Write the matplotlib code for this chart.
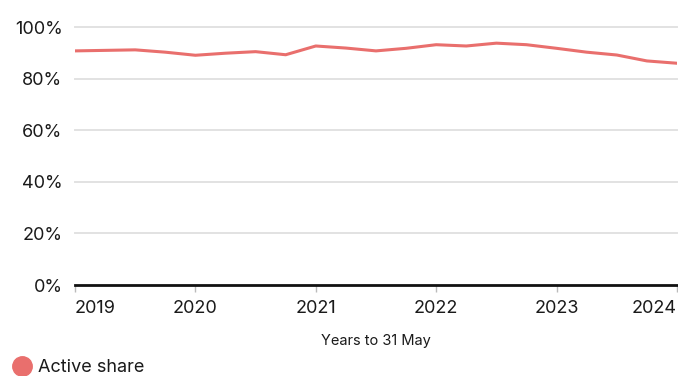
import matplotlib
matplotlib.use('Agg')
import matplotlib.pyplot as plt
from matplotlib.lines import Line2D
import numpy as np

plt.rcParams['font.family'] = ['Inter', 'DejaVu Sans']

# quarterly active share, May 2019 .. May 2024
quarters = ['2019-05', '2019-08', '2019-11', '2020-02', '2020-05', '2020-08', '2020-11',
            '2021-02', '2021-05', '2021-08', '2021-11', '2022-02', '2022-05', '2022-08',
            '2022-11', '2023-02', '2023-05', '2023-08', '2023-11', '2024-02', '2024-05']
active_share = [90.9, 91.1, 91.3, 90.4, 89.2, 90.0, 90.6, 89.4, 92.8, 92.0, 90.9,
                91.9, 93.3, 92.8, 93.9, 93.3, 91.9, 90.4, 89.3, 87.0, 86.1]
year_ticks = [2019, 2020, 2021, 2022, 2023, 2024]
pct_ticks = [0, 20, 40, 60, 80, 100]

line_col = '#e96f6d'
text_col = '#1a1a1a'

# years measured from 31 May
x = np.array([int(q[:4]) + (int(q[5:]) - 5) / 12.0 for q in quarters])

fig = plt.figure(figsize=(6.78, 3.76), dpi=100)
ax = fig.add_axes([0.1106, 0.242, 0.8879, 0.685])

for t in pct_ticks[1:]:
    ax.axhline(t, color='#e2e2e2', lw=1.4, zorder=1, clip_on=False)
ax.axhline(0, color='#111111', lw=2.0, zorder=3, clip_on=False)

ax.plot(x, active_share, color=line_col, lw=2.2, zorder=4, solid_joinstyle='round')

ax.set_xlim(2019, 2024)
ax.set_ylim(0, 100)
for s in ax.spines.values():
    s.set_visible(False)

ax.set_yticks(pct_ticks)
ax.set_yticklabels(['%d%%' % t for t in pct_ticks], fontsize=13, color=text_col)
ax.tick_params(axis='y', length=0, pad=9)

ax.set_xticks(year_ticks)
ax.set_xticklabels([str(y) for y in year_ticks], fontsize=13, color=text_col)
ax.tick_params(axis='x', length=5, width=1, color='#bbbbbb', pad=6)
labels = ax.get_xticklabels()
labels[0].set_horizontalalignment('left')
labels[-1].set_horizontalalignment('right')

ax.set_xlabel('Years to 31 May', fontsize=10.5, color=text_col, labelpad=12)

handle = Line2D([], [], marker='o', ls='', color=line_col, markersize=14)
fig.legend(handles=[handle], labels=['Active share'], loc='center left',
           bbox_to_anchor=(0.019, 0.022), frameon=False, fontsize=13,
           handlelength=1.0, handletextpad=0.4, borderpad=0, borderaxespad=0,
           labelcolor=text_col)

fig.savefig('out.png', dpi=100)
